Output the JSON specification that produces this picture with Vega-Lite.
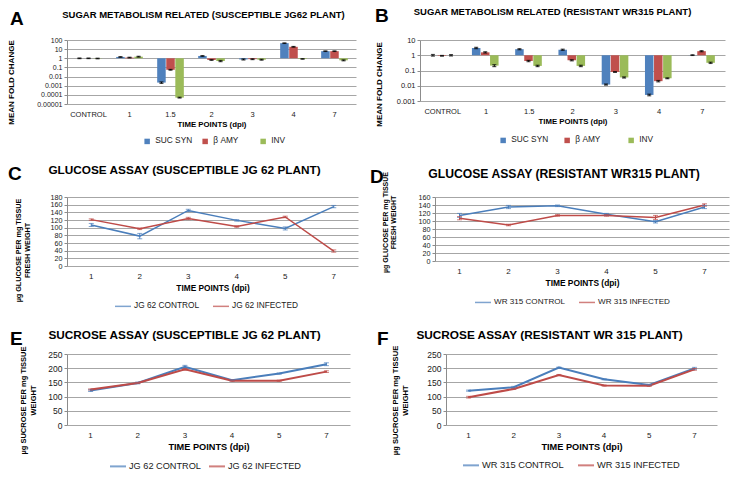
{
  "$schema": "https://vega.github.io/schema/vega-lite/v6.json",
  "background": "white",
  "padding": {"left": 6, "top": 6, "right": 4, "bottom": 4},
  "config": {
    "font": "Liberation Sans",
    "view": {"stroke": null},
    "axis": {"labelFontSize": 8, "labelColor": "#1a1a1a", "titleFontSize": 8, "titleFontWeight": "bold", "titleColor": "#000000", "gridColor": "#a6a6a6", "domainColor": "#8c8c8c", "tickColor": "#8c8c8c", "tickSize": 3, "labelPadding": 2, "labelOverlap": false, "titleLimit": 300},
    "axisX": {"labelAngle": 0, "grid": false, "ticks": false, "domain": false, "labelPadding": 6, "titlePadding": 3},
    "legend": {"orient": "none", "direction": "horizontal", "title": null, "labelFontSize": 8.3, "labelColor": "#1a1a1a", "gridAlign": "all"},
    "title": {"fontWeight": "bold", "color": "#000000", "fontSize": 11.7, "frame": "group"}
  },
  "datasets": {
    "A": [
      {"t": "CONTROL", "g": "SUC SYN", "v": 1.0, "lo": 0.92, "hi": 1.08},
      {"t": "CONTROL", "g": "β AMY", "v": 1.0, "lo": 0.93, "hi": 1.07},
      {"t": "CONTROL", "g": "INV", "v": 0.95, "lo": 0.88, "hi": 1.02},
      {"t": "1", "g": "SUC SYN", "v": 1.4, "lo": 1.3, "hi": 1.5},
      {"t": "1", "g": "β AMY", "v": 1.2, "lo": 1.1, "hi": 1.3},
      {"t": "1", "g": "INV", "v": 1.5, "lo": 1.35, "hi": 1.65},
      {"t": "1.5", "g": "SUC SYN", "v": 0.0022, "lo": 0.0018, "hi": 0.0026},
      {"t": "1.5", "g": "β AMY", "v": 0.055, "lo": 0.05, "hi": 0.06},
      {"t": "1.5", "g": "INV", "v": 0.00005, "lo": 0.000045, "hi": 0.000055},
      {"t": "2", "g": "SUC SYN", "v": 1.8, "lo": 1.65, "hi": 1.95},
      {"t": "2", "g": "β AMY", "v": 0.65, "lo": 0.6, "hi": 0.7},
      {"t": "2", "g": "INV", "v": 0.5, "lo": 0.43, "hi": 0.57},
      {"t": "3", "g": "SUC SYN", "v": 0.75, "lo": 0.65, "hi": 0.85},
      {"t": "3", "g": "β AMY", "v": 0.8, "lo": 0.72, "hi": 0.88},
      {"t": "3", "g": "INV", "v": 0.7, "lo": 0.62, "hi": 0.78},
      {"t": "4", "g": "SUC SYN", "v": 45, "lo": 42, "hi": 48},
      {"t": "4", "g": "β AMY", "v": 18, "lo": 16.5, "hi": 19.5},
      {"t": "4", "g": "INV", "v": 0.85, "lo": 0.8, "hi": 0.9},
      {"t": "7", "g": "SUC SYN", "v": 6, "lo": 5.6, "hi": 6.4},
      {"t": "7", "g": "β AMY", "v": 6, "lo": 5.6, "hi": 6.4},
      {"t": "7", "g": "INV", "v": 0.6, "lo": 0.53, "hi": 0.67}
    ],
    "B": [
      {"t": "CONTROL", "g": "SUC SYN", "v": 1.0, "lo": 0.88, "hi": 1.12},
      {"t": "CONTROL", "g": "β AMY", "v": 0.92, "lo": 0.87, "hi": 0.97},
      {"t": "CONTROL", "g": "INV", "v": 1.0, "lo": 0.9, "hi": 1.1},
      {"t": "1", "g": "SUC SYN", "v": 3.0, "lo": 2.7, "hi": 3.3},
      {"t": "1", "g": "β AMY", "v": 1.55, "lo": 1.4, "hi": 1.7},
      {"t": "1", "g": "INV", "v": 0.21, "lo": 0.18, "hi": 0.24},
      {"t": "1.5", "g": "SUC SYN", "v": 2.5, "lo": 2.3, "hi": 2.7},
      {"t": "1.5", "g": "β AMY", "v": 0.42, "lo": 0.38, "hi": 0.46},
      {"t": "1.5", "g": "INV", "v": 0.2, "lo": 0.18, "hi": 0.22},
      {"t": "2", "g": "SUC SYN", "v": 2.3, "lo": 2.1, "hi": 2.5},
      {"t": "2", "g": "β AMY", "v": 0.47, "lo": 0.43, "hi": 0.51},
      {"t": "2", "g": "INV", "v": 0.2, "lo": 0.18, "hi": 0.22},
      {"t": "3", "g": "SUC SYN", "v": 0.012, "lo": 0.011, "hi": 0.013},
      {"t": "3", "g": "β AMY", "v": 0.08, "lo": 0.075, "hi": 0.085},
      {"t": "3", "g": "INV", "v": 0.035, "lo": 0.032, "hi": 0.038},
      {"t": "4", "g": "SUC SYN", "v": 0.0025, "lo": 0.0022, "hi": 0.0028},
      {"t": "4", "g": "β AMY", "v": 0.02, "lo": 0.018, "hi": 0.022},
      {"t": "4", "g": "INV", "v": 0.031, "lo": 0.029, "hi": 0.033},
      {"t": "7", "g": "SUC SYN", "v": 1.02, "lo": 0.97, "hi": 1.07},
      {"t": "7", "g": "β AMY", "v": 1.85, "lo": 1.7, "hi": 2.0},
      {"t": "7", "g": "INV", "v": 0.32, "lo": 0.29, "hi": 0.35}
    ],
    "C": [
      {"t": "1", "s": "JG 62 CONTROL", "v": 107, "lo": 103, "hi": 111},
      {"t": "2", "s": "JG 62 CONTROL", "v": 78, "lo": 71, "hi": 85},
      {"t": "3", "s": "JG 62 CONTROL", "v": 145, "lo": 142, "hi": 148},
      {"t": "4", "s": "JG 62 CONTROL", "v": 119, "lo": 117, "hi": 121},
      {"t": "5", "s": "JG 62 CONTROL", "v": 98, "lo": 94, "hi": 102},
      {"t": "7", "s": "JG 62 CONTROL", "v": 155, "lo": 152, "hi": 158},
      {"t": "1", "s": "JG 62 INFECTED", "v": 121, "lo": 119, "hi": 123},
      {"t": "2", "s": "JG 62 INFECTED", "v": 97, "lo": 95, "hi": 99},
      {"t": "3", "s": "JG 62 INFECTED", "v": 124, "lo": 121, "hi": 127},
      {"t": "4", "s": "JG 62 INFECTED", "v": 103, "lo": 101, "hi": 105},
      {"t": "5", "s": "JG 62 INFECTED", "v": 128, "lo": 126, "hi": 130},
      {"t": "7", "s": "JG 62 INFECTED", "v": 39, "lo": 36, "hi": 42}
    ],
    "D": [
      {"t": "1", "s": "WR 315 CONTROL", "v": 114, "lo": 109, "hi": 119},
      {"t": "2", "s": "WR 315 CONTROL", "v": 135, "lo": 131, "hi": 139},
      {"t": "3", "s": "WR 315 CONTROL", "v": 138, "lo": 136, "hi": 140},
      {"t": "4", "s": "WR 315 CONTROL", "v": 117, "lo": 115, "hi": 119},
      {"t": "5", "s": "WR 315 CONTROL", "v": 98, "lo": 95, "hi": 101},
      {"t": "7", "s": "WR 315 CONTROL", "v": 135, "lo": 131, "hi": 139},
      {"t": "1", "s": "WR 315 INFECTED", "v": 107, "lo": 103, "hi": 111},
      {"t": "2", "s": "WR 315 INFECTED", "v": 90, "lo": 88, "hi": 92},
      {"t": "3", "s": "WR 315 INFECTED", "v": 114, "lo": 112, "hi": 116},
      {"t": "4", "s": "WR 315 INFECTED", "v": 114, "lo": 112, "hi": 116},
      {"t": "5", "s": "WR 315 INFECTED", "v": 109, "lo": 104, "hi": 114},
      {"t": "7", "s": "WR 315 INFECTED", "v": 140, "lo": 137, "hi": 143}
    ],
    "E": [
      {"t": "1", "s": "JG 62 CONTROL", "v": 121, "lo": 118, "hi": 124},
      {"t": "2", "s": "JG 62 CONTROL", "v": 148, "lo": 145, "hi": 151},
      {"t": "3", "s": "JG 62 CONTROL", "v": 205, "lo": 200, "hi": 210},
      {"t": "4", "s": "JG 62 CONTROL", "v": 158, "lo": 156, "hi": 160},
      {"t": "5", "s": "JG 62 CONTROL", "v": 181, "lo": 179, "hi": 183},
      {"t": "7", "s": "JG 62 CONTROL", "v": 214, "lo": 209, "hi": 219},
      {"t": "1", "s": "JG 62 INFECTED", "v": 125, "lo": 123, "hi": 127},
      {"t": "2", "s": "JG 62 INFECTED", "v": 148, "lo": 146, "hi": 150},
      {"t": "3", "s": "JG 62 INFECTED", "v": 196, "lo": 193, "hi": 199},
      {"t": "4", "s": "JG 62 INFECTED", "v": 156, "lo": 154, "hi": 158},
      {"t": "5", "s": "JG 62 INFECTED", "v": 156, "lo": 154, "hi": 158},
      {"t": "7", "s": "JG 62 INFECTED", "v": 188, "lo": 185, "hi": 191}
    ],
    "F": [
      {"t": "1", "s": "WR 315 CONTROL", "v": 121, "lo": 119, "hi": 123},
      {"t": "2", "s": "WR 315 CONTROL", "v": 133, "lo": 130, "hi": 136},
      {"t": "3", "s": "WR 315 CONTROL", "v": 202, "lo": 200, "hi": 204},
      {"t": "4", "s": "WR 315 CONTROL", "v": 161, "lo": 159, "hi": 163},
      {"t": "5", "s": "WR 315 CONTROL", "v": 141, "lo": 139, "hi": 143},
      {"t": "7", "s": "WR 315 CONTROL", "v": 199, "lo": 195, "hi": 203},
      {"t": "1", "s": "WR 315 INFECTED", "v": 98, "lo": 95, "hi": 101},
      {"t": "2", "s": "WR 315 INFECTED", "v": 127, "lo": 125, "hi": 129},
      {"t": "3", "s": "WR 315 INFECTED", "v": 176, "lo": 174, "hi": 178},
      {"t": "4", "s": "WR 315 INFECTED", "v": 139, "lo": 137, "hi": 141},
      {"t": "5", "s": "WR 315 INFECTED", "v": 138, "lo": 136, "hi": 140},
      {"t": "7", "s": "WR 315 INFECTED", "v": 196, "lo": 193, "hi": 199}
    ]
  },
  "resolve": {"scale": {"color": "independent"}},
  "spacing": 20,
  "vconcat": [
    {
      "hconcat": [
        {
          "title": {"text": "A", "anchor": "start", "fontSize": 19, "dy": 19, "dx": 3, "offset": 0, "frame": "bounds"},
          "resolve": {"scale": {"color": "independent"}},
          "vconcat": [
            {
              "title": {"text": "SUGAR METABOLISM RELATED (SUSCEPTIBLE JG62 PLANT)", "fontSize": 9.5, "offset": 17, "dx": -8},
              "width": 289, "height": 64,
              "data": {"name": "A"},
              "encoding": {
                "x": {"field": "t", "type": "nominal", "sort": ["CONTROL", "1", "1.5", "2", "3", "4", "7"], "scale": {"paddingInner": 0.35, "paddingOuter": 0.2}, "axis": {"labelFontSize": 7.5, "titleFontSize": 7.8, "title": "TIME POINTS (dpi)"}},
                "xOffset": {"field": "g", "type": "nominal", "sort": ["SUC SYN", "β AMY", "INV"], "scale": {"paddingInner": 0.06}}
              },
              "layer": [
                {
                  "mark": {"type": "bar"},
                  "encoding": {
                    "y": {"field": "v", "type": "quantitative", "scale": {"type": "log", "domain": [0.00001, 100], "nice": false}, "axis": {"values": [0.00001, 0.0001, 0.001, 0.01, 0.1, 1, 10, 100], "tickCount": 20, "format": "~g", "labelFontSize": 7, "title": "MEAN FOLD CHANGE", "titleFontSize": 8, "titleX": -52, "titleY": 42}},
                    "y2": {"datum": 1},
                    "color": {"field": "g", "type": "nominal", "sort": ["SUC SYN", "β AMY", "INV"], "scale": {"range": ["#4F81BD", "#C0504D", "#9BBB59"]}, "legend": {"legendX": 76, "legendY": 97, "columns": 3, "gridAlign": "all", "symbolType": "square", "symbolSize": 30, "columnPadding": 8, "labelOffset": 4}}
                  }
                },
                {"mark": {"type": "rule", "color": "#000000", "strokeWidth": 1}, "encoding": {"y": {"field": "lo", "type": "quantitative"}, "y2": {"field": "hi"}}},
                {"mark": {"type": "tick", "color": "#000000", "size": 4, "thickness": 1.2}, "encoding": {"y": {"field": "lo", "type": "quantitative"}}},
                {"mark": {"type": "tick", "color": "#000000", "size": 4, "thickness": 1.2}, "encoding": {"y": {"field": "hi", "type": "quantitative"}}}
              ]
            }
          ]
        },
        {
          "title": {"text": "B", "anchor": "start", "fontSize": 19, "dy": 19, "offset": 0, "frame": "bounds"},
          "resolve": {"scale": {"color": "independent"}},
          "vconcat": [
            {
              "title": {"text": "SUGAR METABOLISM RELATED (RESISTANT WR315 PLANT)", "fontSize": 9.5, "offset": 20, "dx": -20},
              "width": 305, "height": 61,
              "data": {"name": "B"},
              "encoding": {
                "x": {"field": "t", "type": "nominal", "sort": ["CONTROL", "1", "1.5", "2", "3", "4", "7"], "scale": {"paddingInner": 0.35, "paddingOuter": 0.2}, "axis": {"labelFontSize": 7.5, "titleFontSize": 7.8, "title": "TIME POINTS (dpi)"}},
                "xOffset": {"field": "g", "type": "nominal", "sort": ["SUC SYN", "β AMY", "INV"], "scale": {"paddingInner": 0.06}}
              },
              "layer": [
                {
                  "mark": {"type": "bar"},
                  "encoding": {
                    "y": {"field": "v", "type": "quantitative", "scale": {"type": "log", "domain": [0.001, 10], "nice": false}, "axis": {"values": [0.001, 0.01, 0.1, 1, 10], "tickCount": 20, "format": "~g", "labelFontSize": 7.5, "title": "MEAN FOLD CHANGE", "titleFontSize": 8, "titleX": -37, "titleY": 44}},
                    "y2": {"datum": 1},
                    "color": {"field": "g", "type": "nominal", "sort": ["SUC SYN", "β AMY", "INV"], "scale": {"range": ["#4F81BD", "#C0504D", "#9BBB59"]}, "legend": {"legendX": 79, "legendY": 96, "columns": 3, "gridAlign": "all", "symbolType": "square", "symbolSize": 30, "columnPadding": 14, "labelOffset": 4}}
                  }
                },
                {"mark": {"type": "rule", "color": "#000000", "strokeWidth": 1}, "encoding": {"y": {"field": "lo", "type": "quantitative"}, "y2": {"field": "hi"}}},
                {"mark": {"type": "tick", "color": "#000000", "size": 4, "thickness": 1.2}, "encoding": {"y": {"field": "lo", "type": "quantitative"}}},
                {"mark": {"type": "tick", "color": "#000000", "size": 4, "thickness": 1.2}, "encoding": {"y": {"field": "hi", "type": "quantitative"}}}
              ]
            }
          ]
        }
      ],
      "spacing": 18,
      "resolve": {"scale": {"color": "independent"}}
    },
    {
      "resolve": {"scale": {"color": "independent"}},
      "spacing": 20,
      "vconcat": [
        {
          "hconcat": [
            {
              "title": {"text": "C", "anchor": "start", "fontSize": 19, "dy": 19, "dx": -6, "offset": 0, "frame": "bounds"},
              "resolve": {"scale": {"color": "independent"}},
              "vconcat": [
                {
                  "title": {"text": "GLUCOSE ASSAY (SUSCEPTIBLE JG 62 PLANT)", "fontSize": 11.8, "offset": 16, "dx": -28},
                  "width": 291, "height": 69,
                  "data": {"name": "C"},
                  "encoding": {
                    "x": {"field": "t", "type": "ordinal", "axis": {"titleFontSize": 8.3, "title": "TIME POINTS (dpi)"}},
                    "color": {"field": "s", "type": "nominal", "sort": ["JG 62 CONTROL", "JG 62 INFECTED"], "scale": {"range": ["#4A7EBB", "#BE4B48"]}, "legend": {"legendX": 47, "legendY": 100, "columns": 2, "gridAlign": "all", "symbolType": "stroke", "symbolSize": 256, "symbolStrokeWidth": 1.5, "columnPadding": 10, "labelOffset": 2}}
                  },
                  "layer": [
                    {"mark": {"type": "line", "strokeWidth": 1.5}, "encoding": {"y": {"field": "v", "type": "quantitative", "scale": {"domain": [0, 180], "nice": false}, "axis": {"values": [0, 20, 40, 60, 80, 100, 120, 140, 160, 180], "tickCount": 20, "labelFontSize": 7.2, "title": ["µg GLUCOSE PER mg TISSUE", "FRESH WEIGHT"], "titleFontSize": 7.2, "titleLineHeight": 9, "titleX": -45, "titleY": 53}}}},
                    {"mark": {"type": "rule", "strokeWidth": 1}, "encoding": {"y": {"field": "lo", "type": "quantitative"}, "y2": {"field": "hi"}}},
                    {"mark": {"type": "tick", "size": 5, "thickness": 1}, "encoding": {"y": {"field": "lo", "type": "quantitative"}}},
                    {"mark": {"type": "tick", "size": 5, "thickness": 1}, "encoding": {"y": {"field": "hi", "type": "quantitative"}}}
                  ]
                }
              ]
            },
            {
              "title": {"text": "D", "anchor": "start", "fontSize": 19, "dy": 19, "dx": -11, "offset": 0, "frame": "bounds"},
              "resolve": {"scale": {"color": "independent"}},
              "vconcat": [
                {
                  "title": {"text": "GLUCOSE ASSAY (RESISTANT WR315 PLANT)", "fontSize": 12.2, "offset": -9, "dx": -18},
                  "width": 294, "height": 64,
                  "data": {"name": "D"},
                  "encoding": {
                    "x": {"field": "t", "type": "ordinal", "axis": {"titleFontSize": 8.4, "title": "TIME POINTS (dpi)"}},
                    "color": {"field": "s", "type": "nominal", "sort": ["WR 315 CONTROL", "WR 315 INFECTED"], "scale": {"range": ["#4A7EBB", "#BE4B48"]}, "legend": {"legendX": 39, "legendY": 96, "columns": 2, "gridAlign": "all", "labelFontSize": 8.1, "symbolType": "stroke", "symbolSize": 256, "symbolStrokeWidth": 1.5, "columnPadding": 10, "labelOffset": 2}}
                  },
                  "layer": [
                    {"mark": {"type": "line", "strokeWidth": 1.5}, "encoding": {"y": {"field": "v", "type": "quantitative", "scale": {"domain": [0, 160], "nice": false}, "axis": {"values": [0, 20, 40, 60, 80, 100, 120, 140, 160], "tickCount": 20, "labelFontSize": 7.2, "title": ["µg GLUCOSE PER mg TISSUE", "FRESH WEIGHT"], "titleFontSize": 7, "titleLineHeight": 8, "titleX": -47, "titleY": 25}}}},
                    {"mark": {"type": "rule", "strokeWidth": 1}, "encoding": {"y": {"field": "lo", "type": "quantitative"}, "y2": {"field": "hi"}}},
                    {"mark": {"type": "tick", "size": 5, "thickness": 1}, "encoding": {"y": {"field": "lo", "type": "quantitative"}}},
                    {"mark": {"type": "tick", "size": 5, "thickness": 1}, "encoding": {"y": {"field": "hi", "type": "quantitative"}}}
                  ]
                }
              ]
            }
          ],
          "spacing": 12,
          "resolve": {"scale": {"color": "independent"}}
        },
        {
          "hconcat": [
            {
              "title": {"text": "E", "anchor": "start", "fontSize": 19, "dy": 19, "dx": -9, "offset": 0, "frame": "bounds"},
              "resolve": {"scale": {"color": "independent"}},
              "vconcat": [
                {
                  "title": {"text": "SUCROSE ASSAY (SUSCEPTIBLE JG 62 PLANT)", "fontSize": 11.8, "offset": 4, "dx": -24},
                  "width": 283, "height": 71,
                  "data": {"name": "E"},
                  "encoding": {
                    "x": {"field": "t", "type": "ordinal", "axis": {"titleFontSize": 9.2, "title": "TIME POINTS (dpi)"}},
                    "color": {"field": "s", "type": "nominal", "sort": ["JG 62 CONTROL", "JG 62 INFECTED"], "scale": {"range": ["#4A7EBB", "#BE4B48"]}, "legend": {"legendX": 42, "legendY": 103, "columns": 2, "gridAlign": "all", "labelFontSize": 9.2, "symbolType": "stroke", "symbolSize": 256, "symbolStrokeWidth": 2, "columnPadding": 2, "labelOffset": 2}}
                  },
                  "layer": [
                    {"mark": {"type": "line", "strokeWidth": 2}, "encoding": {"y": {"field": "v", "type": "quantitative", "scale": {"domain": [0, 250], "nice": false}, "axis": {"values": [0, 50, 100, 150, 200, 250], "tickCount": 20, "labelFontSize": 8.5, "title": ["µg SUCROSE PER mg TISSUE", "WEIGHT"], "titleFontSize": 7.5, "titleLineHeight": 10, "titleX": -40, "titleY": 46}}}},
                    {"mark": {"type": "rule", "strokeWidth": 1}, "encoding": {"y": {"field": "lo", "type": "quantitative"}, "y2": {"field": "hi"}}},
                    {"mark": {"type": "tick", "size": 5, "thickness": 1}, "encoding": {"y": {"field": "lo", "type": "quantitative"}}},
                    {"mark": {"type": "tick", "size": 5, "thickness": 1}, "encoding": {"y": {"field": "hi", "type": "quantitative"}}}
                  ]
                }
              ]
            },
            {
              "title": {"text": "F", "anchor": "start", "fontSize": 19, "dy": 19, "dx": -14, "offset": 0, "frame": "bounds"},
              "resolve": {"scale": {"color": "independent"}},
              "vconcat": [
                {
                  "title": {"text": "SUCROSE ASSAY (RESISTANT WR 315 PLANT)", "fontSize": 11.8, "offset": 3, "dx": -32},
                  "width": 271, "height": 71,
                  "data": {"name": "F"},
                  "encoding": {
                    "x": {"field": "t", "type": "ordinal", "axis": {"titleFontSize": 9.2, "title": "TIME POINTS (dpi)"}},
                    "color": {"field": "s", "type": "nominal", "sort": ["WR 315 CONTROL", "WR 315 INFECTED"], "scale": {"range": ["#4A7EBB", "#BE4B48"]}, "legend": {"legendX": 16, "legendY": 102, "columns": 2, "gridAlign": "all", "labelFontSize": 9.3, "symbolType": "stroke", "symbolSize": 256, "symbolStrokeWidth": 2, "columnPadding": 9, "labelOffset": 2}}
                  },
                  "layer": [
                    {"mark": {"type": "line", "strokeWidth": 2}, "encoding": {"y": {"field": "v", "type": "quantitative", "scale": {"domain": [0, 250], "nice": false}, "axis": {"values": [0, 50, 100, 150, 200, 250], "tickCount": 20, "labelFontSize": 8.5, "title": ["µg SUCROSE PER mg TISSUE", "WEIGHT"], "titleFontSize": 7.6, "titleLineHeight": 10, "titleX": -47, "titleY": 46}}}},
                    {"mark": {"type": "rule", "strokeWidth": 1}, "encoding": {"y": {"field": "lo", "type": "quantitative"}, "y2": {"field": "hi"}}},
                    {"mark": {"type": "tick", "size": 5, "thickness": 1}, "encoding": {"y": {"field": "lo", "type": "quantitative"}}},
                    {"mark": {"type": "tick", "size": 5, "thickness": 1}, "encoding": {"y": {"field": "hi", "type": "quantitative"}}}
                  ]
                }
              ]
            }
          ],
          "spacing": 27,
          "resolve": {"scale": {"color": "independent"}}
        }
      ]
    }
  ]
}
